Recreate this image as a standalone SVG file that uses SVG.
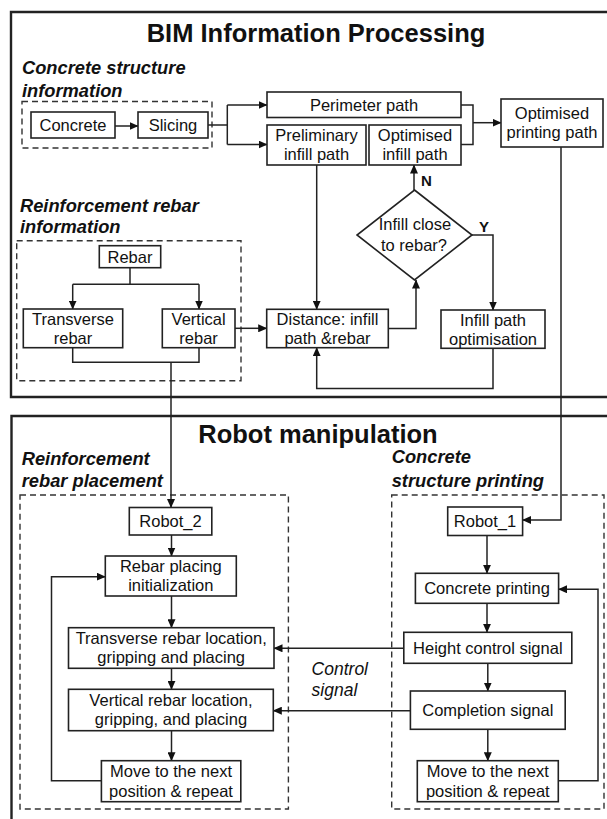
<svg xmlns="http://www.w3.org/2000/svg" width="607" height="819" viewBox="0 0 607 819">
<style>
.bg{fill:#fff}
.frame{fill:none;stroke:#222;stroke-width:2.4}
.dash{fill:none;stroke:#333;stroke-width:1.4;stroke-dasharray:6 4}
.box{fill:#fff;stroke:#222;stroke-width:1.6}
.ln{fill:none;stroke:#222;stroke-width:1.5}
.t{font-family:"Liberation Sans",Arial,sans-serif;font-size:16.5px;fill:#111;text-anchor:middle}
.title{font-family:"Liberation Sans",Arial,sans-serif;font-size:25.5px;font-weight:bold;fill:#111;text-anchor:middle}
.lab{font-family:"Liberation Sans",Arial,sans-serif;font-size:18.3px;font-weight:bold;font-style:italic;fill:#111}
.yn{font-family:"Liberation Sans",Arial,sans-serif;font-size:15px;font-weight:bold;fill:#111}
.ctl{font-family:"Liberation Sans",Arial,sans-serif;font-size:17.5px;font-style:italic;fill:#111}
</style>
<defs>
<marker id="ah" markerWidth="9" markerHeight="8" refX="8.5" refY="4" orient="auto" markerUnits="userSpaceOnUse">
<path d="M0,0 L9,4 L0,8 Z" fill="#111"/>
</marker>
</defs>
<rect class="bg" x="0" y="0" width="607" height="819"/>

<g id="frames">
<path class="frame" d="M620,12 H11 V397 H620"/>
<path class="frame" d="M620,416 H11.5 V830"/>
<rect class="dash" x="22" y="101.5" width="190" height="46.5"/>
<rect class="dash" x="16.7" y="240.7" width="224.3" height="140"/>
<rect class="dash" x="20" y="495" width="268.4" height="314"/>
<rect class="dash" x="391.7" y="495" width="212.3" height="314"/>
</g>

<g id="labels">
<text class="title" x="316" y="42">BIM Information Processing</text>
<text class="title" x="318" y="443">Robot manipulation</text>
<text class="lab" x="22" y="74">Concrete structure</text>
<text class="lab" x="22" y="97">information</text>
<text class="lab" x="20" y="211.5">Reinforcement rebar</text>
<text class="lab" x="20" y="233">information</text>
<text class="lab" x="21.7" y="465">Reinforcement</text>
<text class="lab" x="21.7" y="486.7">rebar placement</text>
<text class="lab" x="391.7" y="463.3">Concrete</text>
<text class="lab" x="391.7" y="486.7">structure printing</text>
<text class="ctl" x="311.6" y="675">Control</text>
<text class="ctl" x="311.6" y="695.5">signal</text>
<text class="yn" x="421" y="185.5">N</text>
<text class="yn" x="479" y="232">Y</text>
</g>

<g id="connectors">
<path class="ln" d="M115,126 H138" marker-end="url(#ah)"/>
<path class="ln" d="M208,125 H227.3"/>
<path class="ln" d="M227.3,105 V144.5"/>
<path class="ln" d="M227.3,105 H267" marker-end="url(#ah)"/>
<path class="ln" d="M227.3,144.5 H267" marker-end="url(#ah)"/>
<path class="ln" d="M461,105 H473 V144.5 H461"/>
<path class="ln" d="M473,122.7 H501" marker-end="url(#ah)"/>
<path class="ln" d="M316.7,165 V309.3" marker-end="url(#ah)"/>
<path class="ln" d="M388.3,328.5 H416 V280" marker-end="url(#ah)"/>
<path class="ln" d="M414,190 V165" marker-end="url(#ah)"/>
<path class="ln" d="M472,235 H493 V310" marker-end="url(#ah)"/>
<path class="ln" d="M493,348.3 V388.5 H316.7 V347.7" marker-end="url(#ah)"/>
<path class="ln" d="M130,267.7 V284.3"/>
<path class="ln" d="M72.7,284.3 H199"/>
<path class="ln" d="M72.7,284.3 V309" marker-end="url(#ah)"/>
<path class="ln" d="M199,284.3 V309" marker-end="url(#ah)"/>
<path class="ln" d="M235,328.3 H266.7" marker-end="url(#ah)"/>
<path class="ln" d="M72.7,347.7 V362.3 H199 V347.7"/>
<path class="ln" d="M171,362.3 V507.5" marker-end="url(#ah)"/>
<path class="ln" d="M561,147 V520 H522.6" marker-end="url(#ah)"/>
<path class="ln" d="M171.5,535 V556" marker-end="url(#ah)"/>
<path class="ln" d="M171.5,596 V627.7" marker-end="url(#ah)"/>
<path class="ln" d="M171.5,668.3 V689.3" marker-end="url(#ah)"/>
<path class="ln" d="M171.5,730.7 V760.7" marker-end="url(#ah)"/>
<path class="ln" d="M101.4,780.7 H51.5 V576.7 H105.3" marker-end="url(#ah)"/>
<path class="ln" d="M487,535.5 V573.3" marker-end="url(#ah)"/>
<path class="ln" d="M487,603.3 V632.3" marker-end="url(#ah)"/>
<path class="ln" d="M487.8,663.3 V691" marker-end="url(#ah)"/>
<path class="ln" d="M487.8,729.3 V760.7" marker-end="url(#ah)"/>
<path class="ln" d="M558.3,780.7 H598 V589.3 H558.6" marker-end="url(#ah)"/>
<path class="ln" d="M403.8,648.3 H274" marker-end="url(#ah)"/>
<path class="ln" d="M410.4,710.7 H273.3" marker-end="url(#ah)"/>
</g>

<g id="n-concrete"><rect class="box" x="31" y="112" width="84" height="26"/><text class="t" x="73" y="130.8">Concrete</text></g>
<g id="n-slicing"><rect class="box" x="138" y="112" width="70" height="26"/><text class="t" x="173" y="130.8">Slicing</text></g>
<g id="n-perimeter"><rect class="box" x="267" y="92" width="194" height="25.5"/><text class="t" x="364" y="110.5">Perimeter path</text></g>
<g id="n-prelim"><rect class="box" x="267" y="125" width="99" height="40"/><text class="t" x="316.5" y="141">Preliminary</text><text class="t" x="316.5" y="160">infill path</text></g>
<g id="n-optinfill"><rect class="box" x="369" y="125" width="92" height="40"/><text class="t" x="415" y="141">Optimised</text><text class="t" x="415" y="160">infill path</text></g>
<g id="n-optprint"><rect class="box" x="501" y="99" width="102" height="48"/><text class="t" x="552" y="118.5">Optimised</text><text class="t" x="552" y="138.3">printing path</text></g>
<g id="n-rebar"><rect class="box" x="99.3" y="245.7" width="61.4" height="22"/><text class="t" x="130" y="262.5">Rebar</text></g>
<g id="n-transverse"><rect class="box" x="23.3" y="309" width="99.4" height="38.7"/><text class="t" x="73" y="325">Transverse</text><text class="t" x="73" y="344">rebar</text></g>
<g id="n-vertical"><rect class="box" x="162.3" y="309" width="72.7" height="38.7"/><text class="t" x="198.6" y="325">Vertical</text><text class="t" x="198.6" y="344">rebar</text></g>
<g id="n-distance"><rect class="box" x="266.7" y="309.3" width="121.6" height="38.4"/><text class="t" x="327.5" y="325">Distance: infill</text><text class="t" x="327.5" y="344">path &amp;rebar</text></g>
<g id="n-decision"><path class="box" d="M414.5,190 L472,235 L414.5,280 L357,235 Z"/><text class="t" x="415" y="230">Infill close</text><text class="t" x="414" y="250.5">to rebar?</text></g>
<g id="n-infillopt"><rect class="box" x="441" y="310" width="104" height="38.3"/><text class="t" x="493" y="325.5">Infill path</text><text class="t" x="493" y="344.5">optimisation</text></g>

<g id="n-robot2"><rect class="box" x="129.3" y="507.5" width="82.5" height="27.5"/><text class="t" x="170.5" y="527">Robot_2</text></g>
<g id="n-init"><rect class="box" x="105.3" y="556" width="131" height="40"/><text class="t" x="170.8" y="572">Rebar placing</text><text class="t" x="170.8" y="591">initialization</text></g>
<g id="n-transloc"><rect class="box" x="68.5" y="627.7" width="205.5" height="40.6"/><text class="t" x="171.2" y="644">Transverse rebar location,</text><text class="t" x="171.2" y="663">gripping and placing</text></g>
<g id="n-vertloc"><rect class="box" x="68.5" y="689.3" width="204.8" height="41.4"/><text class="t" x="171" y="706">Vertical rebar location,</text><text class="t" x="171" y="725">gripping, and placing</text></g>
<g id="n-move1"><rect class="box" x="101.4" y="760.7" width="139.4" height="41"/><text class="t" x="171" y="777">Move to the next</text><text class="t" x="171" y="796.5">position &amp; repeat</text></g>
<g id="n-robot1"><rect class="box" x="447.7" y="507" width="74.9" height="28.5"/><text class="t" x="485" y="527">Robot_1</text></g>
<g id="n-print"><rect class="box" x="415.4" y="573.3" width="143.2" height="30"/><text class="t" x="487" y="594">Concrete printing</text></g>
<g id="n-height"><rect class="box" x="403.8" y="632.3" width="168" height="31"/><text class="t" x="487.8" y="653.5">Height control signal</text></g>
<g id="n-complete"><rect class="box" x="410.4" y="691" width="154.8" height="38.3"/><text class="t" x="487.8" y="716">Completion signal</text></g>
<g id="n-move2"><rect class="box" x="417.3" y="760.7" width="141" height="41"/><text class="t" x="487.8" y="777">Move to the next</text><text class="t" x="487.8" y="796.5">position &amp; repeat</text></g>
</svg>
